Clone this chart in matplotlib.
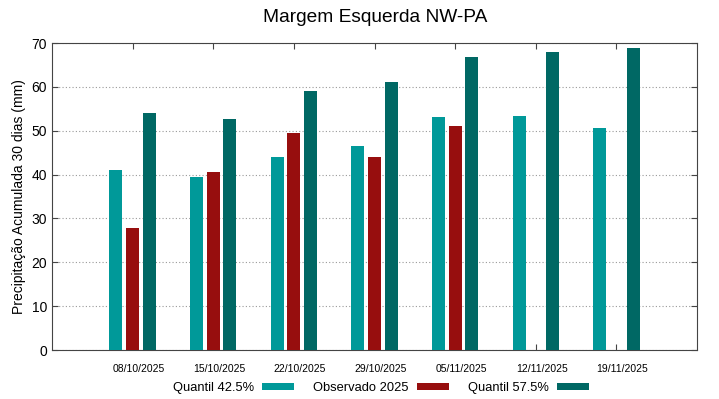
import numpy as np
import matplotlib
matplotlib.use("Agg")
import matplotlib.pyplot as plt
import matplotlib.transforms as mtransforms

plt.rcParams['font.family'] = ['Liberation Sans', 'DejaVu Sans']

# data
datas = ["08/10/2025", "15/10/2025", "22/10/2025", "29/10/2025",
         "05/11/2025", "12/11/2025", "19/11/2025"]
q425 = [41.0, 39.4, 44.1, 46.5, 53.1, 53.4, 50.7]
obs2025 = [27.9, 40.7, 49.4, 43.9, 51.0, np.nan, np.nan]
q575 = [54.0, 52.7, 59.1, 61.2, 66.9, 67.9, 68.9]

c_q425 = '#009999'
c_obs = '#970e0e'
c_q575 = '#006864'

x = np.arange(1, len(datas) + 1)
w = 0.16
dx = 0.207

fig = plt.figure(figsize=(7.19, 3.99), dpi=100)
ax = fig.add_axes([52/719, 1 - 350/399, (697-52)/719, (350-43)/399])

ax.bar(x - dx, q425, w, color=c_q425, label='Quantil 42.5%', zorder=3)
ax.bar(x, obs2025, w, color=c_obs, label='Observado 2025', zorder=3)
ax.bar(x + dx, q575, w, color=c_q575, label='Quantil 57.5%', zorder=3)

ax.set_xlim(0, 8)
ax.set_ylim(0, 70)
ax.set_xticks(x)
ax.set_xticklabels(datas, fontsize=7.5)
ax.set_yticks(np.arange(0, 71, 10))
ax.tick_params(axis='y', labelsize=10)
ax.tick_params(direction='in', top=True, right=True, length=4, color='#444444')
ax.tick_params(axis='x', pad=10)
# gnuplot puts the date labels a little right of the tick
shift = mtransforms.ScaledTranslation(6/100, 0, fig.dpi_scale_trans)
for lab in ax.get_xticklabels():
    lab.set_transform(lab.get_transform() + shift)
ax.yaxis.grid(True, linestyle=(0, (1, 2)), color='#999999', linewidth=0.8)
ax.set_axisbelow(True)
for s in ax.spines.values():
    s.set_color('#444444')

ax.set_ylabel('Precipitação Acumulada 30 dias (mm)', fontsize=10)
fig.text(0.5 + 16/719, 1 - 17/399, 'Margem Esquerda NW-PA', fontsize=13.8,
         ha='center', va='center')

fig.legend(loc='center', bbox_to_anchor=(381/719, 1 - 388/399), ncol=3,
           frameon=False, markerfirst=False, fontsize=9.3,
           handlelength=2.5, handleheight=0.45, columnspacing=1.5,
           handletextpad=0.6)

fig.savefig('out.png', dpi=100)
